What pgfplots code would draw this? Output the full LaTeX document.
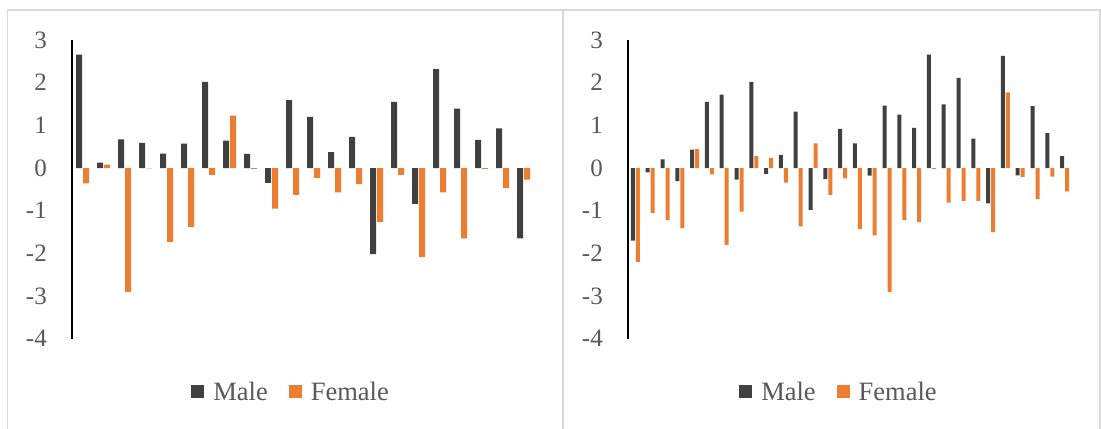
\documentclass[border=0pt]{standalone}
\usepackage{fontspec}
\setmainfont{Liberation Serif}
\usepackage{pgfplots}
\pgfplotsset{compat=1.18}
\definecolor{male}{RGB}{64,64,64}
\definecolor{female}{RGB}{237,125,49}
\definecolor{txt}{RGB}{89,89,89}
\definecolor{frame}{RGB}{217,217,217}
\pgfplotsset{
  panel/.style={
    scale only axis,
    height=298.7bp,
    ymin=-4, ymax=3,
    axis x line=none,
    axis y line=left,
    y axis line style={-, black, line width=1.6bp},
    ytick={-4,-3,-2,-1,0,1,2,3},
    yticklabels={-4,-3,-2,-1,0,1,2,3},
    major tick length=0pt,
    yticklabel style={inner sep=0pt, xshift=-25bp, font=\fontsize{25bp}{28bp}\selectfont, text=txt},
    clip=false,
    anchor=south west,
    legend columns=2,
    legend style={draw=none, fill=none, anchor=center,
      font=\fontsize{26.5bp}{30bp}\selectfont, text=txt,
      nodes={inner sep=0pt},
      /tikz/every even column/.append style={column sep=21bp}},
    legend cell align=left,
  },
  sqlegend/.style={every axis plot post/.append style={
    legend image code/.code={\fill[##1] (0bp,-6.5bp) rectangle (13bp,6.5bp);}}},
  malebar/.style={fill=male, draw=none},
  femalebar/.style={fill=female, draw=none},
}
\begin{document}
\begin{tikzpicture}
\useasboundingbox (0,0) rectangle (1101bp,429bp);
\fill[white] (0,0) rectangle (1101bp,429bp);
\draw[frame, line width=1.8bp] (7.5bp,0) -- (7.5bp,419bp) -- (1100bp,419bp) -- (1100bp,0);
\draw[frame, line width=1.8bp] (563bp,0) -- (563bp,419bp);
% Left panel
\begin{axis}[panel, at={(72bp,90.3bp)}, width=462bp,
  xmin=0.5, xmax=22.5, ybar=1bp, bar width=6bp, sqlegend,
  legend style={at={(0.472,-0.178)}, /tikz/every odd column/.append style={column sep=9bp}}]
\addplot[malebar] coordinates {(1,2.66) (2,0.125) (3,0.67) (4,0.59) (5,0.34) (6,0.57) (7,2.02) (8,0.64) (9,0.33) (10,-0.35) (11,1.59) (12,1.20) (13,0.375) (14,0.73) (15,-2.02) (16,1.55) (17,-0.84) (18,2.32) (19,1.39) (20,0.66) (21,0.93) (22,-1.65)};
\addplot[femalebar] coordinates {(1,-0.36) (2,0.08) (3,-2.90) (4,-0.01) (5,-1.73) (6,-1.38) (7,-0.16) (8,1.23) (9,-0.02) (10,-0.95) (11,-0.63) (12,-0.23) (13,-0.57) (14,-0.375) (15,-1.26) (16,-0.16) (17,-2.09) (18,-0.57) (19,-1.65) (20,-0.02) (21,-0.47) (22,-0.27)};
\legend{Male,Female}
\end{axis}
% Right panel
\begin{axis}[panel, at={(628bp,90.3bp)}, width=444bp,
  xmin=0.5, xmax=30.5, ybar=1bp, bar width=4bp, sqlegend,
  legend style={at={(0.473,-0.178)}, /tikz/every odd column/.append style={column sep=9bp}}]
\addplot[malebar] coordinates {(1,-1.70) (2,-0.10) (3,0.20) (4,-0.31) (5,0.43) (6,1.55) (7,1.72) (8,-0.27) (9,2.02) (10,-0.14) (11,0.31) (12,1.32) (13,-0.98) (14,-0.26) (15,0.92) (16,0.58) (17,-0.18) (18,1.46) (19,1.25) (20,0.94) (21,2.66) (22,1.49) (23,2.11) (24,0.69) (25,-0.83) (26,2.63) (27,-0.17) (28,1.45) (29,0.82) (30,0.28)};
\addplot[femalebar] coordinates {(1,-2.20) (2,-1.06) (3,-1.22) (4,-1.41) (5,0.45) (6,-0.15) (7,-1.80) (8,-1.02) (9,0.28) (10,0.24) (11,-0.34) (12,-1.37) (13,0.58) (14,-0.63) (15,-0.24) (16,-1.43) (17,-1.58) (18,-2.90) (19,-1.22) (20,-1.27) (21,-0.02) (22,-0.81) (23,-0.77) (24,-0.77) (25,-1.50) (26,1.77) (27,-0.21) (28,-0.73) (29,-0.20) (30,-0.55)};
\legend{Male,Female}
\end{axis}
\end{tikzpicture}
\end{document}
